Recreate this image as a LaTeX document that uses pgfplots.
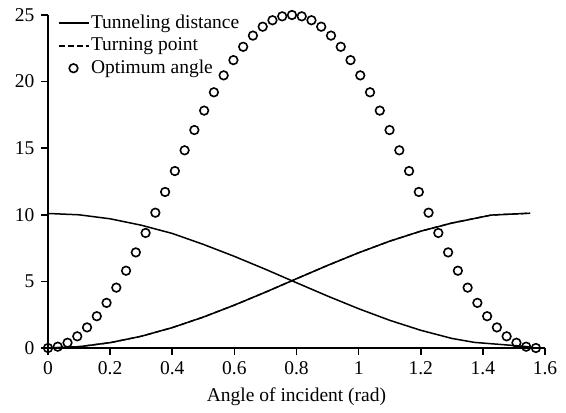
\documentclass[border=0pt]{standalone}
\usepackage{fontspec}
\setmainfont{Liberation Serif}
\usepackage{pgfplots}
\pgfplotsset{compat=1.18}
\usetikzlibrary{calc}
\begin{document}
\fontsize{19.5bp}{22bp}\selectfont
\begin{tikzpicture}
\begin{axis}[name=ax, scale only axis, width=497bp, height=333bp,
  xmin=0, xmax=1.6, ymin=0, ymax=25,
  axis lines*=left, axis line style={line width=1.7bp, black},
  xtick={0,0.2,0.4,0.6,0.8,1,1.2,1.4,1.6},
  ytick={0,5,10,15,20,25},
  tick align=outside, major tick length=7bp,
  tick style={line width=1.7bp, black},
  /pgf/number format/assume math mode=true,
  ticklabel style={font=\fontsize{19.5bp}{22bp}\selectfont},
  label style={font=\fontsize{19.5bp}{22bp}\selectfont},
  xlabel={Angle of incident (rad)},
  clip=false,
  legend cell align=left,
  legend style={at={(axis cs:0.030,25.15)}, anchor=north west, draw=none, fill=none,
    font=\fontsize{19.5bp}{22bp}\selectfont, row sep=3.5bp, inner sep=0pt,
    nodes={inner sep=1.5bp}},
  legend image code/.code={\draw[mark repeat=2,mark phase=2,#1] plot coordinates {(0bp,0bp) (15bp,0bp) (30bp,0bp)};},
]
\addplot[black, line width=1.5bp] coordinates {
(0,10.1) (0.1,10.0) (0.2,9.70) (0.3,9.22) (0.4,8.60) (0.5,7.78) (0.6,6.88) (0.7,5.91)
(0.8,4.90) (0.9,3.90) (1.0,2.95) (1.1,2.08) (1.2,1.33) (1.3,0.72) (1.373,0.42) (1.52,0.15) (1.552,0.08)};
\addlegendentry{Tunneling distance}
\addplot[black, line width=1.4bp, dash pattern=on 6bp off 3bp,
  legend image code/.code={\draw[black, line width=2bp, dash pattern=on 6bp off 3bp] (0bp,0bp) -- (30bp,0bp);}] coordinates {
(0,0) (0.1,0.10) (0.2,0.40) (0.3,0.88) (0.4,1.53) (0.5,2.32) (0.6,3.22) (0.7,4.19)
(0.8,5.20) (0.9,6.20) (1.0,7.15) (1.1,8.02) (1.2,8.77) (1.3,9.38) (1.427,9.98) (1.552,10.12)};
\addlegendentry{Turning point}
\addplot[black, line width=1.5bp, forget plot] coordinates {
(0,0) (0.1,0.10) (0.2,0.40) (0.3,0.88) (0.4,1.53) (0.5,2.32) (0.6,3.22) (0.7,4.19)
(0.8,5.20) (0.9,6.20) (1.0,7.15) (1.1,8.02) (1.2,8.77) (1.3,9.38) (1.427,9.98) (1.552,10.12)};
\addplot[black, only marks, mark=o, mark size=4.3bp, line width=1.6bp] coordinates {
(0,0) (0.0314,0.099) (0.0628,0.393) (0.0942,0.878) (0.1257,1.546) (0.1571,2.387)
(0.1885,3.388) (0.2199,4.532) (0.2513,5.802) (0.2827,7.178) (0.3142,8.637) (0.3456,10.158)
(0.3770,11.715) (0.4084,13.285) (0.4398,14.842) (0.4712,16.363) (0.5027,17.822) (0.5341,19.198)
(0.5655,20.468) (0.5969,21.612) (0.6283,22.613) (0.6597,23.454) (0.6912,24.122) (0.7226,24.607)
(0.7540,24.901) (0.7854,25.000) (0.8168,24.901) (0.8482,24.607) (0.8796,24.122) (0.9111,23.454)
(0.9425,22.613) (0.9739,21.612) (1.0053,20.468) (1.0367,19.198) (1.0681,17.822) (1.0996,16.363)
(1.1310,14.842) (1.1624,13.285) (1.1938,11.715) (1.2252,10.158) (1.2566,8.637) (1.2881,7.178)
(1.3195,5.802) (1.3509,4.532) (1.3823,3.388) (1.4137,2.387) (1.4451,1.546) (1.4765,0.878)
(1.5080,0.393) (1.5394,0.099) (1.5708,0)};
\addlegendentry{Optimum angle}
\end{axis}
\path ($(ax.south west)+(-48bp,-62bp)$) rectangle ($(ax.south west)+(518bp,348bp)$);
\end{tikzpicture}
\end{document}
